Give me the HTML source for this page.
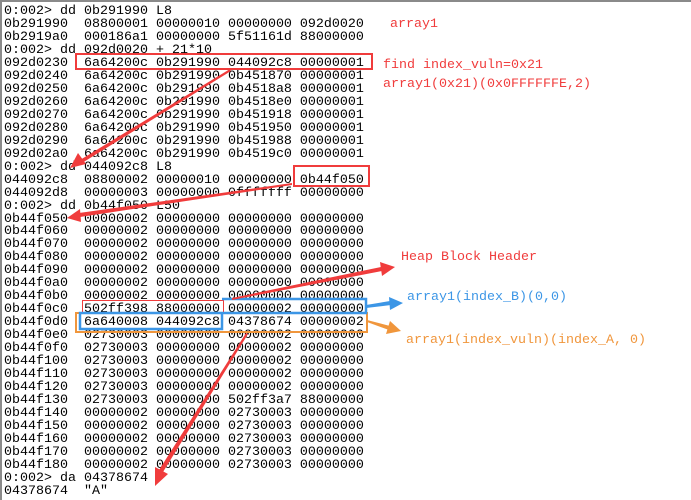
<!DOCTYPE html>
<html><head><meta charset="utf-8"><style>
html,body{margin:0;padding:0;background:#fff;}
body{width:691px;height:500px;position:relative;overflow:hidden;}
#frame{position:absolute;left:0;top:0;width:691px;height:500px;border-top:2px solid #8a8a8a;border-left:2px solid #8a8a8a;box-sizing:border-box;}
pre{position:absolute;left:4px;top:6px;margin:0;font-family:"Liberation Mono",monospace;font-size:13.33px;line-height:12.97px;color:#000;}
.t{position:absolute;font-family:"Liberation Mono",monospace;font-size:13.33px;white-space:pre;line-height:14px;}
.r{color:#f03c3c}.b{color:#3c96e6}.o{color:#f0963c}
.box{position:absolute;box-sizing:border-box;}
</style></head><body>
<div id="frame"></div>
<pre>0:002&gt; dd 0b291990 L8
0b291990  08800001 00000010 00000000 092d0020
0b2919a0  000186a1 00000000 5f51161d 88000000
0:002&gt; dd 092d0020 + 21*10
092d0230  6a64200c 0b291990 044092c8 00000001
092d0240  6a64200c 0b291990 0b451870 00000001
092d0250  6a64200c 0b291990 0b4518a8 00000001
092d0260  6a64200c 0b291990 0b4518e0 00000001
092d0270  6a64200c 0b291990 0b451918 00000001
092d0280  6a64200c 0b291990 0b451950 00000001
092d0290  6a64200c 0b291990 0b451988 00000001
092d02a0  6a64200c 0b291990 0b4519c0 00000001
0:002&gt; dd 044092c8 L8
044092c8  08800002 00000010 00000000 0b44f050
044092d8  00000003 00000000 0fffffff 00000000
0:002&gt; dd 0b44f050 L50
0b44f050  00000002 00000000 00000000 00000000
0b44f060  00000002 00000000 00000000 00000000
0b44f070  00000002 00000000 00000000 00000000
0b44f080  00000002 00000000 00000000 00000000
0b44f090  00000002 00000000 00000000 00000000
0b44f0a0  00000002 00000000 00000000 00000000
0b44f0b0  00000002 00000000 00000000 00000000
0b44f0c0  502ff398 88000000 00000002 00000000
0b44f0d0  6a640008 044092c8 04378674 00000002
0b44f0e0  02730003 00000000 00000002 00000000
0b44f0f0  02730003 00000000 00000002 00000000
0b44f100  02730003 00000000 00000002 00000000
0b44f110  02730003 00000000 00000002 00000000
0b44f120  02730003 00000000 00000002 00000000
0b44f130  02730003 00000000 502ff3a7 88000000
0b44f140  00000002 00000000 02730003 00000000
0b44f150  00000002 00000000 02730003 00000000
0b44f160  00000002 00000000 02730003 00000000
0b44f170  00000002 00000000 02730003 00000000
0b44f180  00000002 00000000 02730003 00000000
0:002&gt; da 04378674
04378674  "A"</pre>
<div class="t r" style="left:390px;top:18px">array1</div>
<div class="t r" style="left:383px;top:59px">find index_vuln=0x21</div>
<div class="t r" style="left:383px;top:78px">array1(0x21)(0x0FFFFFFE,2)</div>
<div class="t r" style="left:401px;top:251px">Heap Block Header</div>
<div class="t b" style="left:407px;top:291px">array1(index_B)(0,0)</div>
<div class="t o" style="left:406px;top:334px">array1(index_vuln)(index_A, 0)</div>

<div class="box" style="left:75px;top:53px;width:298px;height:17px;border:2px solid #f03c3c"></div>
<div class="box" style="left:293px;top:165px;width:77px;height:22px;border:2px solid #f03c3c"></div>
<div class="box" style="left:82px;top:300px;width:142px;height:13px;border:1px solid #f03c3c"></div>
<div class="box" style="left:75px;top:312px;width:293px;height:21px;border:2px solid #f0963c"></div>
<svg width="691" height="500" style="position:absolute;left:0;top:0">
<polyline points="222,299 366,299 366,313 222,313 222,329 80,329 80,313 222,313" fill="none" stroke="#3c96e6" stroke-width="2.5"/>
<g fill="#f03c3c">
<polygon points="230,69 231,71 82,163 80,160"/>
<polygon points="70,168 78,153 86,164"/>
<polygon points="292,183 292,185 80,217 79,213"/>
<polygon points="67,218 80,209 81,222"/>
<polygon points="232,298 232,300 382,271 381,267"/>
<polygon points="395,267 380,262 382,276"/>
<polygon points="246,333 248,334 163,472 159,470"/>
<polygon points="155,486 155,467 168,474"/>
</g>
<polygon points="366,305 366,308 391,305 390,301" fill="#3c96e6"/>
<polygon points="403,303 389,297 390,310" fill="#3c96e6"/>
<polygon points="367,320 367,322 389,330 390,326" fill="#f0963c"/>
<polygon points="401,331 390,321 386,334" fill="#f0963c"/>
</svg>
</body></html>
